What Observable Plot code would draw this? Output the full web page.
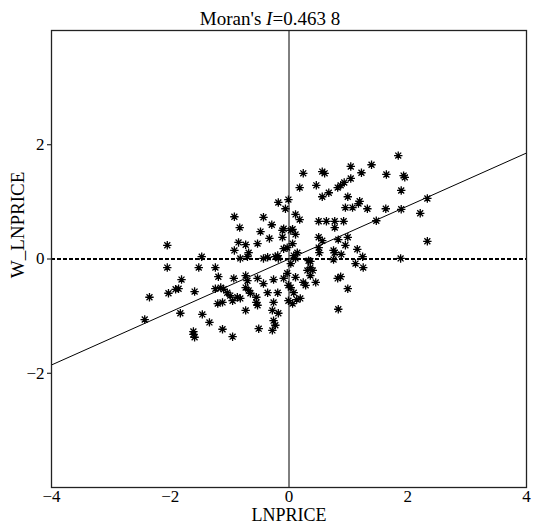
<!DOCTYPE html>
<html><head><meta charset="utf-8">
<script src="https://cdn.jsdelivr.net/npm/d3@7"></script>
<script src="https://cdn.jsdelivr.net/npm/@observablehq/plot@0.6"></script>
<style>
body{margin:0;background:#fff}
#wrap{position:relative;width:534px;height:527px;font-family:"Liberation Serif","Times New Roman",serif;color:#000}
#title{position:absolute;top:8px;left:0;width:540px;text-align:center;font-size:19px;line-height:22px}
</style></head>
<body>
<div id="wrap"><div id="title">Moran's <i>I</i>=0.463 8</div></div>
<script>
const moranI = 0.4638;
const xTicks = [-4, -2, 0, 2, 4];
const yTicks = [-2, 0, 2];
const lnprice = [
 1.84,1.04,1.39,0.24,0.56,0.60,1.22,1.64,1.93,1.95,1.04,0.18,0.46,0.82,0.87,0.93,1.89,0.67,0.56,0.99,
 2.33,1.19,1.17,-0.18,-0.01,-0.06,0.95,1.07,1.32,1.63,1.89,2.21,0.11,0.18,0.50,0.63,0.77,0.92,1.47,0.77,
 -0.29,-0.09,-0.11,0.03,0.06,0.11,-0.11,0.50,0.56,0.83,0.99,2.33,0.95,0.06,-0.03,-0.09,0.50,0.51,0.75,0.77,
 0.88,1.15,1.24,-0.23,-0.18,0.08,0.11,0.33,0.36,0.75,1.88,1.12,0.03,0.36,1.25,
 -0.92,-0.43,-0.83,-0.48,-2.05,-0.85,-0.73,-0.53,-0.33,-0.92,-0.68,-0.70,-1.47,-0.82,-0.43,-0.36,-0.19,-2.05,-1.52,-1.24,
 -1.81,-1.19,-0.93,-0.73,-0.70,-0.53,-0.43,-0.26,-2.35,-2.03,-1.91,-1.86,-1.59,-1.24,-1.15,-1.10,-1.04,-0.99,-0.95,-0.87,
 -0.82,-0.73,-0.68,-0.65,-0.55,-0.55,-0.53,-0.36,-0.19,-1.20,-1.12,-0.73,-0.26,-0.28,-1.83,-1.46,-2.43,-1.34,-1.12,-0.51,
 -0.26,-0.28,-1.61,-1.61,-1.59,-0.95,
 0.14,-0.03,-0.09,0.11,0.31,0.40,0.36,0.45,0.24,0.28,0.82,0.87,-0.01,0.03,0.08,0.99,0.19,0.13,-0.01,0.06,
 0.83,-0.18,-0.23
];
const wLnprice = [
 1.81,1.62,1.65,1.50,1.53,1.50,1.51,1.48,1.46,1.43,1.41,1.25,1.29,1.25,1.29,1.34,1.20,1.16,1.09,1.09,
 1.06,1.01,0.97,0.99,1.04,0.88,0.90,0.90,0.88,0.88,0.87,0.80,0.78,0.69,0.66,0.66,0.66,0.66,0.67,0.55,
 0.60,0.53,0.50,0.50,0.52,0.43,0.38,0.38,0.32,0.34,0.38,0.31,0.24,0.27,0.20,0.18,0.20,0.11,0.15,0.11,
 0.08,0.17,0.04,0.04,0.01,0.06,0.01,-0.03,-0.04,-0.01,0.01,-0.08,-0.08,-0.15,-0.15,
 0.74,0.73,0.55,0.48,0.24,0.29,0.25,0.27,0.36,0.15,0.11,0.04,0.04,0.01,0.01,0.03,0.06,-0.15,-0.15,-0.15,
 -0.36,-0.31,-0.34,-0.29,-0.38,-0.34,-0.43,-0.36,-0.67,-0.60,-0.53,-0.52,-0.57,-0.52,-0.50,-0.53,-0.59,-0.64,-0.73,-0.67,
 -0.69,-0.50,-0.55,-0.60,-0.67,-0.76,-0.81,-0.59,-0.59,-0.78,-0.76,-0.90,-0.76,-0.90,-0.95,-0.97,-1.06,-1.11,-1.23,-1.22,
 -1.08,-1.25,-1.27,-1.32,-1.37,-1.36,
 0.11,-0.25,-0.34,-0.32,-0.20,-0.20,-0.29,-0.41,-0.41,-0.46,-0.34,-0.31,-0.46,-0.50,-0.59,-0.52,-0.69,-0.71,-0.73,-0.78,
 -0.88,-0.95,-1.16
];
const points = lnprice.map((x, i) => ({x, y: wLnprice[i]}));
const fitX = [-4, 4];
const fitLine = fitX.map(x => ({x, y: moranI * x}));

const asterisk = {
  draw(ctx, size) {
    const r = Math.sqrt(size / Math.PI);
    for (let k = 0; k < 4; k++) {
      const a = k * Math.PI / 4, c = Math.cos(a) * r, s = Math.sin(a) * r;
      ctx.moveTo(-c, -s); ctx.lineTo(c, s);
    }
  }
};

const serif = '"Liberation Serif","Times New Roman",serif';
const chart = Plot.plot({
  width: 534, height: 527,
  marginTop: 30, marginLeft: 51, marginRight: 8, marginBottom: 40,
  style: {fontFamily: serif, fontSize: "17px", color: "#000", background: "#fff"},
  x: {domain: [-4, 4]},
  y: {domain: [-4, 4]},
  marks: [
    Plot.axisX({ticks: xTicks, tickSize: 0, tickPadding: 2, label: null, fontSize: 17, fontFamily: serif}),
    Plot.axisY({ticks: yTicks, tickSize: 4, tickPadding: 3, label: null, fontSize: 17, fontFamily: serif}),
    Plot.ruleX([0], {stroke: "#000", strokeWidth: 1}),
    Plot.ruleY([0], {stroke: "#000", strokeWidth: 1.8, strokeDasharray: "4,2"}),
    Plot.line(fitLine, {x: "x", y: "y", stroke: "#000", strokeWidth: 1}),
    Plot.dot(points, {x: "x", y: "y", r: 4.2, symbol: asterisk, stroke: "#000", fill: "none", strokeWidth: 1.3}),
    Plot.frame({stroke: "#222", strokeWidth: 1.3}),
    Plot.text(["LNPRICE"], {frameAnchor: "bottom", dy: 28, fontSize: 18, fontFamily: serif, textAnchor: "middle", lineAnchor: "middle", text: d => d}),
    Plot.text(["W_LNPRICE"], {frameAnchor: "left", dx: -34, dy: -34, rotate: -90, fontSize: 19, fontFamily: serif, textAnchor: "middle", lineAnchor: "middle", text: d => d})
  ]
});
document.getElementById("wrap").prepend(chart);
</script>
</body></html>
